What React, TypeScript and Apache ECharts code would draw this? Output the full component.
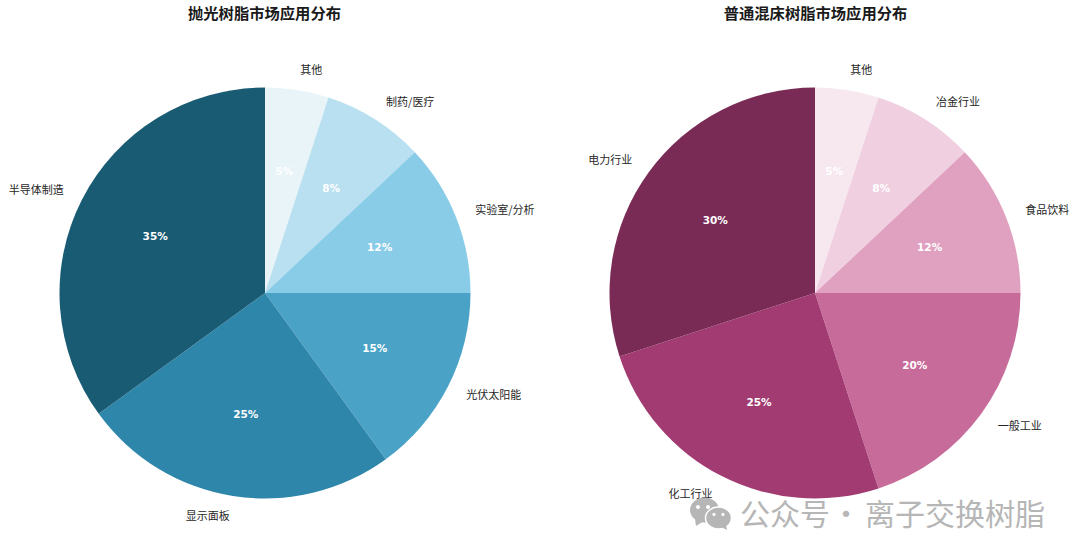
import React, { useEffect, useRef } from "react";
import * as echarts from "echarts";

const leftTitle = "抛光树脂市场应用分布";
const rightTitle = "普通混床树脂市场应用分布";
const leftNames = ["其他", "制药/医疗", "实验室/分析", "光伏太阳能", "显示面板", "半导体制造"];
const leftValues = [5, 8, 12, 15, 25, 35];
const leftColors = ["#E8F4F8", "#B8E0F0", "#89CCE8", "#4AA3C7", "#2E86AB", "#1A5B74"];
const rightNames = ["其他", "冶金行业", "食品饮料", "一般工业", "化工行业", "电力行业"];
const rightValues = [5, 8, 12, 20, 25, 30];
const rightColors = ["#F7E8F0", "#F0CFE1", "#E0A1C1", "#C76B9A", "#A23B72", "#7A2B55"];
const watermarkParts = ["公众号", "·", "离子交换树脂"];

const CJK = '"Noto Sans CJK SC", sans-serif';
const R = 205.5;
const CY = 293;

function pie(names: string[], values: number[], colors: string[], cx: number) {
  const data = names.map((name, i) => ({ name, value: values[i], itemStyle: { color: colors[i] } }));
  return [
    {
      type: "pie",
      center: [cx, CY],
      radius: [0, R],
      startAngle: 90,
      clockwise: true,
      avoidLabelOverlap: false,
      silent: true,
      data,
      itemStyle: { borderWidth: 0 },
      label: {
        show: true,
        position: "outside",
        formatter: "{b}",
        fontFamily: CJK,
        fontSize: 11,
        color: "#262626",
        distanceToLabelLine: 0,
      },
      labelLayout: { dy: -1.2 },
      labelLine: { show: false, length: 20.5, length2: 0 },
    },
    {
      type: "pie",
      center: [cx, CY],
      radius: [35, R],
      startAngle: 90,
      clockwise: true,
      avoidLabelOverlap: false,
      silent: true,
      data: names.map((name, i) => ({ name, value: values[i] })),
      itemStyle: { color: "transparent", borderWidth: 0 },
      label: {
        show: true,
        position: "inside",
        formatter: "{c}%",
        fontFamily: '"DejaVu Sans", sans-serif',
        fontWeight: "bold",
        fontSize: 10.5,
        color: "#ffffff",
      },
      labelLayout: { dy: -0.7 },
      labelLine: { show: false },
    },
  ];
}

const GRAY = "#b6b6b6";

export default function App() {
  const ref = useRef<HTMLDivElement>(null);
  useEffect(() => {
    const chart = echarts.init(ref.current!, undefined, { renderer: "svg" });
    const titleStyle = { fontFamily: CJK, fontWeight: "bold", fontSize: 15.3, color: "#1a1a1a" };
    chart.setOption({
      animation: false,
      backgroundColor: "#ffffff",
      title: [
        { text: leftTitle, left: 259.5, top: -1, textAlign: "center", textStyle: titleStyle },
        { text: rightTitle, left: 810.5, top: -1, textAlign: "center", textStyle: titleStyle },
      ],
      series: [
        ...pie(leftNames, leftValues, leftColors, 265),
        ...pie(rightNames, rightValues, rightColors, 815),
      ],
      graphic: [
        { type: "ellipse", z: 100, shape: { cx: 704.5, cy: 510, rx: 14.5, ry: 12.5 }, style: { fill: GRAY } },
        { type: "polygon", z: 100, shape: { points: [[695, 519], [696, 526], [704, 521]] }, style: { fill: GRAY } },
        { type: "ellipse", z: 101, shape: { cx: 718.5, cy: 518, rx: 13, ry: 11 }, style: { fill: GRAY, stroke: "#ffffff", lineWidth: 1.5 } },
        { type: "polygon", z: 101, shape: { points: [[721, 527], [727, 530], [726, 524]] }, style: { fill: GRAY } },
        { type: "circle", z: 102, shape: { cx: 698, cy: 507, r: 2 }, style: { fill: "#ffffff" } },
        { type: "circle", z: 102, shape: { cx: 708, cy: 507, r: 2 }, style: { fill: "#ffffff" } },
        { type: "circle", z: 102, shape: { cx: 714, cy: 514.5, r: 1.6 }, style: { fill: "#ffffff" } },
        { type: "circle", z: 102, shape: { cx: 723, cy: 514.5, r: 1.6 }, style: { fill: "#ffffff" } },
        { type: "text", z: 100, x: 740, y: 497, style: { text: watermarkParts[0], fontFamily: CJK, fontSize: 30, fill: GRAY } },
        { type: "text", z: 100, x: 831, y: 497, style: { text: watermarkParts[1], fontFamily: CJK, fontSize: 30, fill: GRAY } },
        { type: "text", z: 100, x: 865, y: 497, style: { text: watermarkParts[2], fontFamily: CJK, fontSize: 30, fill: GRAY } },
      ],
    });
    return () => chart.dispose();
  }, []);
  return <div ref={ref} style={{ position: "fixed", left: 0, top: 0, width: 1080, height: 558 }} />;
}
